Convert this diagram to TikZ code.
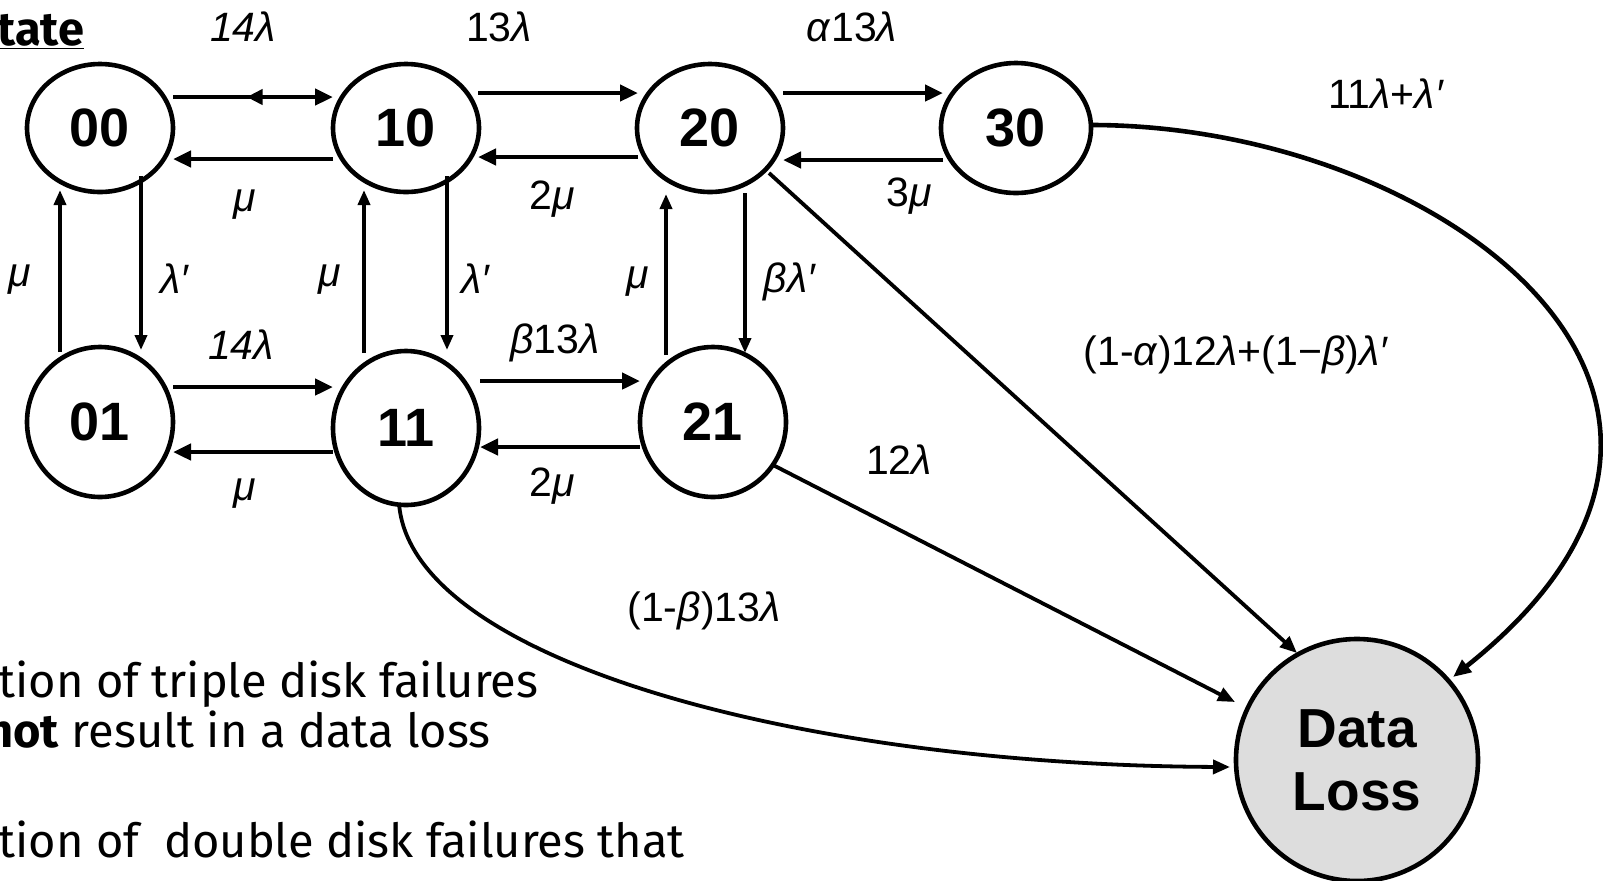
\documentclass[tikz,border=0pt]{standalone}
\usepackage{fontspec}
\setmainfont{Liberation Sans}
\newfontfamily\comicfont{Fira Sans}
\usetikzlibrary{arrows.meta,calc,shapes.geometric,decorations.markings}
\begin{document}
\begin{tikzpicture}[x=0.5pt,y=-0.5pt,
  st/.style={ellipse,draw,line width=2.3pt,inner sep=0pt,font=\fontsize{27}{32}\selectfont\bfseries},
  lbl/.style={inner sep=0pt,font=\fontsize{20.5}{24}\selectfont},
  harr/.style={line width=2.4pt,-{Triangle[length=9pt,width=8pt]}},
  varr/.style={line width=1.8pt,-{Triangle[length=7.5pt,width=6pt]}},
  darr/.style={line width=1.9pt,-{Triangle[length=8.5pt,width=7pt]}},
  ctext/.style={anchor=base west,inner sep=0pt,font=\comicfont\fontsize{23.5}{28}\selectfont}]
\useasboundingbox (0,0) rectangle (1603,880);
\clip (0,0) rectangle (1603,880);

% state nodes
\node[st,minimum width=73pt,minimum height=64pt] (n00) at (100,128) {00};
\node[st,minimum width=73pt,minimum height=64pt] (n10) at (406,128) {10};
\node[st,minimum width=73pt,minimum height=64pt] (n20) at (710,128) {20};
\node[st,minimum width=75pt,minimum height=65pt] (n30) at (1016,128) {30};
\node[st,minimum width=73pt,minimum height=75pt] (n01) at (100,422) {01};
\node[st,minimum width=73pt,minimum height=77pt] (n11) at (406,428) {11};
\node[st,minimum width=73pt,minimum height=75pt] (n21) at (713,422) {21};
\node[circle,draw,line width=2.3pt,fill={rgb,255:red,221;green,221;blue,221},inner sep=0pt,minimum size=121pt,
      align=center,font=\fontsize{27.5}{31.5}\selectfont\bfseries] (DL) at (1357,760) {Data\\Loss};

% top row
\draw[harr,postaction={decorate},decoration={markings,mark=at position 0.46 with {\arrowreversed{Triangle[length=8pt,width=7.5pt]}}}]
  ($(n00)+(73,-31)$) -- ($(n10)+(-73,-31)$);
\draw[harr] ($(n10)+(-73,31)$) -- ($(n00)+(73,31)$);
\draw[harr] ($(n10)+(72,-35)$) -- ($(n20)+(-72,-35)$);
\draw[harr] ($(n20)+(-72,29)$) -- ($(n10)+(72,29)$);
\draw[harr] ($(n20)+(73,-35)$) -- ($(n30)+(-73,-35)$);
\draw[harr] ($(n30)+(-73,32)$) -- ($(n20)+(73,32)$);

% bottom row
\draw[harr] ($(n01)+(73,-35)$) -- ($(n11)+(-73,-41)$);
\draw[harr] ($(n11)+(-73,24)$) -- ($(n01)+(73,30)$);
\draw[harr] ($(n11)+(74,-47)$) -- ($(n21)+(-73,-41)$);
\draw[harr] ($(n21)+(-73,25)$) -- ($(n11)+(74,19)$);

% verticals
\draw[varr] ($(n01)+(-40,-70)$) -- ($(n00)+(-40,62)$);
\draw[varr] ($(n00)+(41,48)$) -- ($(n01)+(41,-72)$);
\draw[varr] ($(n11)+(-42,-75)$) -- ($(n10)+(-42,62)$);
\draw[varr] ($(n10)+(41,48)$) -- ($(n11)+(41,-78)$);
\draw[varr] ($(n21)+(-47,-67)$) -- ($(n20)+(-44,66)$);
\draw[varr] ($(n20)+(35,65)$) -- ($(n21)+(32,-69)$);

% to data loss
\draw[darr] ($(n20)+(59,45)$) -- ($(DL)+(-60,-107)$);
\draw[darr] ($(n21)+(60,43)$) -- ($(DL)+(-122,-58)$);
\draw[darr] ($(n11)+(-7,75)$) .. controls ($(n11)+(4,232)$) and ($(DL)+(-557,5)$) .. ($(DL)+(-127,7)$);
\draw[line width=2.3pt,-{Triangle[length=9pt,width=7.5pt]}] ($(n30)+(75,-3)$) .. controls ($(n30)+(425,-3)$) and ($(DL)+(447,-362)$) .. ($(DL)+(96,-83)$);

% labels
\node[lbl] (l1) at (243,27) {\textit{14λ}};
\node[lbl] (l2) at (499,27) {13\textit{λ}};
\node[lbl] (l3) at (852,27) {\textit{α}13\textit{λ}};
\node[lbl] (l4) at (1386,94) {11\textit{λ}+\textit{λ′}};
\node[lbl] (l5) at (245,205) {\textit{μ}};
\node[lbl] (l6) at (552,199) {2\textit{μ}};
\node[lbl] (l7) at (909,196) {3\textit{μ}};
\node[lbl] (l8) at (20,280) {\textit{μ}};
\node[lbl] (l9) at (175,279) {\textit{λ′}};
\node[lbl] (l10) at (330,280) {\textit{μ}};
\node[lbl] (l11) at (476,279) {\textit{λ′}};
\node[lbl] (l12) at (638,282) {\textit{μ}};
\node[lbl] (l13) at (790,282) {\textit{βλ′}};
\node[lbl] (l14) at (241,345) {\textit{14λ}};
\node[lbl] (l15) at (555,343) {\textit{β}13\textit{λ}};
\node[lbl] (l16) at (245,494) {\textit{μ}};
\node[lbl] (l17) at (552,486) {2\textit{μ}};
\node[lbl] (l18) at (1236,355) {(1-\textit{α})12\textit{λ}+(1−\textit{β})\textit{λ′}};
\node[lbl] (l19) at (899,460) {12\textit{λ}};
\node[lbl] (l20) at (704,611) {(1-\textit{β})13\textit{λ}};

% side texts
\node[ctext,font=\comicfont\fontsize{23.5}{28}\selectfont\bfseries] (t0) at (-3,45) {\underline{tate}};
\node[ctext] (t1) at (-2,697) {tion of triple disk failures};
\node[ctext] (t2) at (-14,747) {\textbf{not} result in a data loss};
\node[ctext] (t3) at (-2,857) {tion of\ \ double disk failures that};
\end{tikzpicture}
\end{document}
